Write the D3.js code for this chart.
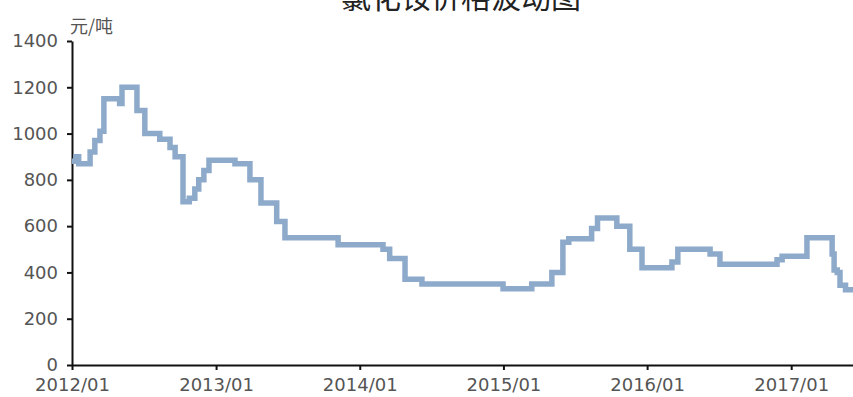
<!DOCTYPE html>
<html>
<head>
<meta charset="utf-8">
<script src="https://cdn.jsdelivr.net/npm/d3@7"></script>
<style>
  body { margin: 0; background: #fff; }
  svg { display: block; }
</style>
</head>
<body>
<div id="chart"></div>
<script>
/* ---------- data: price change points (step series) ---------- */

var dates = [
  "2012-01-01", "2012-01-11", "2012-01-18", "2012-02-16", "2012-02-28", "2012-03-12",
  "2012-03-22", "2012-05-01", "2012-05-07", "2012-06-14", "2012-07-04", "2012-08-11",
  "2012-09-06", "2012-09-19", "2012-10-09", "2012-10-25", "2012-11-08", "2012-11-18",
  "2012-12-01", "2012-12-14", "2013-02-18", "2013-03-28", "2013-04-25", "2013-06-04",
  "2013-06-25", "2013-11-07", "2014-03-01", "2014-03-18", "2014-04-26", "2014-06-08",
  "2014-12-31", "2015-03-14", "2015-05-04", "2015-06-01", "2015-06-16", "2015-08-13",
  "2015-08-28", "2015-10-16", "2015-11-18", "2015-12-19", "2016-03-04", "2016-03-19",
  "2016-06-09", "2016-07-04", "2016-11-26", "2016-12-09", "2017-02-10", "2017-04-15",
  "2017-04-20", "2017-04-28", "2017-05-05", "2017-05-19", "2017-06-07"
];

var prices = [
  880, 900, 870, 920, 970, 1010,
  1150, 1130, 1200, 1100, 1000, 975,
  940, 900, 705, 720, 760, 800,
  840, 885, 870, 800, 700, 620,
  550, 520, 500, 460, 370, 350,
  330, 350, 400, 530, 545, 590,
  635, 600, 500, 420, 445, 500,
  480, 435, 455, 470, 550, 480,
  410, 400, 345, 325, 325
];

var yTicks = [0, 200, 400, 600, 800, 1000, 1200, 1400];
var xTicks = ["2012-01-01", "2013-01-01", "2014-01-01", "2015-01-01", "2016-01-01", "2017-01-01"];

var title = "氯化铵价格波动图",
    unitLabel = "元/吨";

/* ---------- layout ---------- */

var width = 853,
    height = 397;

var margin = { top: 41, right: 0, bottom: 32, left: 72 };

var parse = d3.timeParse("%Y-%m-%d");

var data = dates.map(function(d, i) {
  return { date: parse(d), value: prices[i] };
});

var svg = d3.select("#chart").append("svg")
    .attr("width", width)
    .attr("height", height);

var x = d3.scaleTime()
    .domain([parse(dates[0]), parse(dates[dates.length - 1])])
    .range([margin.left, width - margin.right]);

var y = d3.scaleLinear()
    .domain([0, 1400])
    .range([height - margin.bottom, margin.top]);

/* ---------- title & unit ---------- */

// the title sits partly above the frame, as in the source image
svg.append("text")
    .attr("x", 461)
    .attr("y", 8)
    .attr("text-anchor", "middle")
    .attr("font-family", "'Noto Sans CJK SC', sans-serif")
    .attr("font-size", "30px")
    .attr("fill", "#222")
    .text(title);

svg.append("text")
    .attr("x", 70)
    .attr("y", 33)
    .attr("font-family", "'Noto Sans CJK SC', sans-serif")
    .attr("font-size", "18px")
    .attr("fill", "#555")
    .text(unitLabel);

/* ---------- axes ---------- */

var yAxis = svg.append("g")
    .attr("transform", "translate(" + margin.left + ",0)")
    .call(d3.axisLeft(y)
      .tickValues(yTicks)
      .tickFormat(d3.format("d"))
      .tickSize(5).tickSizeOuter(0).tickPadding(9));

var xAxis = svg.append("g")
    .attr("transform", "translate(0," + (height - margin.bottom) + ")")
    .call(d3.axisBottom(x)
      .tickValues(xTicks.map(parse))
      .tickFormat(d3.timeFormat("%Y/%m"))
      .tickSize(5).tickSizeOuter(0).tickPadding(8));

[xAxis, yAxis].forEach(function(ax) {
  ax.select(".domain").attr("stroke", "#111").attr("stroke-width", 2);
  ax.selectAll(".tick line").attr("stroke", "#111").attr("stroke-width", 2);
  ax.selectAll(".tick text")
    .attr("fill", "#555")
    .attr("font-family", "'DejaVu Sans', sans-serif")
    .attr("font-size", "18px");
});

/* ---------- price line ---------- */

var line = d3.line()
    .curve(d3.curveStepAfter)
    .x(function(d) { return x(d.date); })
    .y(function(d) { return y(d.value); });

svg.append("path")
    .datum(data)
    .attr("fill", "none")
    .attr("stroke", "#8eaacb")
    .attr("stroke-width", 5.5)
    .attr("stroke-linejoin", "miter")
    .attr("d", line);
</script>
</body>
</html>
